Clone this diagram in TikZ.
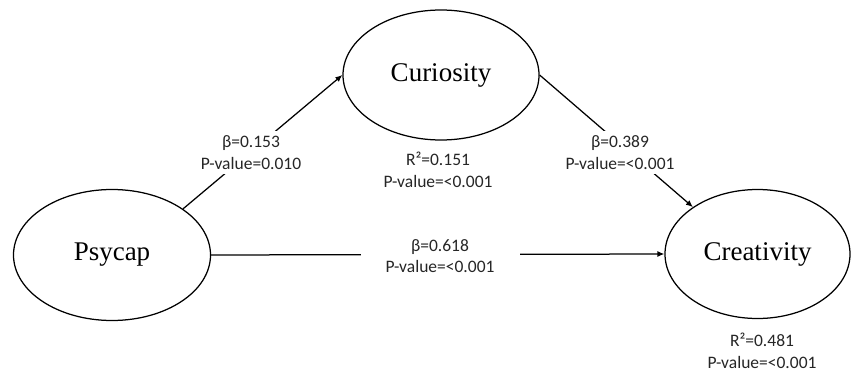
\documentclass[tikz,border=0pt]{standalone}
\usepackage{fontspec}
\usetikzlibrary{shapes.geometric,arrows.meta}
\newfontfamily\nodefont{Liberation Serif}
\newfontfamily\labfont{Carlito}
\begin{document}
\begin{tikzpicture}[x=1pt,y=-1pt,
  latent/.style={ellipse,draw,line width=1.25pt,inner sep=0pt,
    font=\nodefont\fontsize{27}{32}\selectfont},
  conn/.style={line width=1.25pt},
  arr/.style={conn,-{Latex[length=7pt,width=6pt]}},
  lab/.style={fill=white,inner xsep=5pt,inner ysep=5pt,align=center,
    font=\labfont\fontsize{17.5}{21.5}\selectfont,text=black!85}]
\useasboundingbox (0,0) rectangle (851,372);
\node[latent,minimum width=197pt,minimum height=131pt] (psy) at (112,255) {Psycap};
\node[latent,minimum width=196pt,minimum height=130pt] (cur) at (441,75) {Curiosity};
\node[latent,minimum width=185pt,minimum height=129pt] (cre) at (757.5,254) {Creativity};
\draw[arr] (psy.33.5) -- (cur.west);
\draw[arr] (cur.east) -- (cre.144);
\draw[arr] (psy.east) -- (cre.west);
\node[lab] (l1) at (251,152.5) {β=0.153\\P-value=0.010};
\node[lab] (l3) at (620,152.5) {β=0.389\\P-value=<0.001};
\node[lab,inner xsep=25pt] (l4) at (440,256) {β=0.618\\P-value=<0.001};
\node[lab] (l2) at (438,170) {R²=0.151\\P-value=<0.001};
\node[lab] (l5) at (762,351) {R²=0.481\\P-value=<0.001};
\end{tikzpicture}
\end{document}
